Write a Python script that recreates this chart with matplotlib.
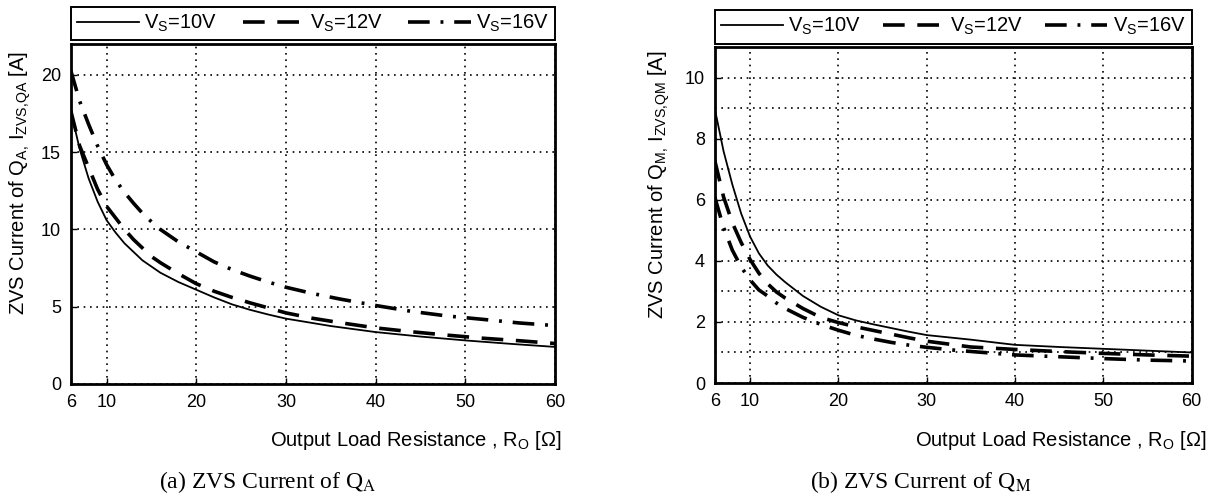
import matplotlib
matplotlib.use('Agg')
import matplotlib.pyplot as plt
from matplotlib.lines import Line2D
from matplotlib.ticker import MultipleLocator

plt.rcParams['font.family'] = ['Liberation Sans', 'DejaVu Sans']
plt.rcParams['mathtext.fontset'] = 'custom'
plt.rcParams['mathtext.rm'] = 'Liberation Sans'
plt.rcParams['mathtext.it'] = 'Liberation Sans:italic'
plt.rcParams['mathtext.bf'] = 'Liberation Sans:bold'

# ---------------- data ----------------
labels = ['V$_\\mathrm{S}$=10V', 'V$_\\mathrm{S}$=12V', 'V$_\\mathrm{S}$=16V']
x_ticks = [6, 10, 20, 30, 40, 50, 60]

# (a) ZVS current of QA
Ra_10 = [6, 7, 8, 9, 10, 11, 12, 14, 16, 18, 20, 22, 24, 26, 28, 30, 35, 40, 45, 50, 55, 60]
Ia_10 = [17.7, 15.2, 13.3, 11.8, 10.6, 9.8, 9.1, 8.0, 7.2, 6.6, 6.1, 5.6, 5.15, 4.8, 4.5, 4.23,
         3.75, 3.36, 3.07, 2.82, 2.6, 2.4]
Ra_12 = [6, 7, 8, 9, 10, 11, 12, 13, 14, 15, 16, 18, 20, 22, 24, 26, 28, 30, 33, 36, 40, 44,
         48, 52, 56, 60]
Ia_12 = [17.7, 15.4, 14.0, 12.6, 11.5, 10.75, 10.0, 9.35, 8.8, 8.25, 7.85, 7.14, 6.49, 6.0,
         5.6, 5.25, 4.93, 4.6, 4.25, 3.97, 3.63, 3.38, 3.16, 2.96, 2.8, 2.62]
Ra_16 = [6, 7, 8, 9, 10, 11, 12, 13, 14, 15, 16, 18, 20, 22, 24, 26, 28, 30, 33, 36, 40, 44,
         48, 52, 56, 60]
Ia_16 = [20.3, 18.3, 16.8, 15.4, 14.2, 13.2, 12.4, 11.7, 11.05, 10.5, 10.0, 9.2, 8.55, 7.9,
         7.4, 6.98, 6.6, 6.26, 5.85, 5.5, 5.08, 4.7, 4.4, 4.18, 3.95, 3.78]

# (b) ZVS current of QM
Rm_10 = [6, 7, 8, 9, 10, 11, 12, 13, 14, 16, 18, 20, 22, 24, 26, 28, 30, 35, 40, 45, 50, 55, 60]
Im_10 = [9.0, 7.6, 6.5, 5.55, 4.8, 4.25, 3.85, 3.55, 3.3, 2.85, 2.5, 2.22, 2.05, 1.92, 1.8,
         1.68, 1.57, 1.42, 1.25, 1.18, 1.12, 1.06, 1.0]
Rm_12 = [6, 7, 8, 9, 10, 11, 12, 13, 14, 16, 18, 20, 22, 24, 26, 28, 30, 35, 40, 45, 50, 55, 60]
Im_12 = [7.3, 6.1, 5.25, 4.6, 4.05, 3.6, 3.25, 2.98, 2.78, 2.44, 2.15, 1.98, 1.84, 1.72, 1.6,
         1.48, 1.37, 1.18, 1.1, 1.03, 0.97, 0.92, 0.88]
Rm_16 = [6, 7, 8, 9, 10, 11, 12, 13, 14, 16, 18, 20, 22, 24, 26, 28, 30, 33, 36, 40, 45, 50,
         55, 60]
Im_16 = [6.1, 5.1, 4.35, 3.8, 3.38, 3.05, 2.85, 2.62, 2.44, 2.15, 1.92, 1.73, 1.56, 1.44, 1.33,
         1.24, 1.17, 1.08, 1.01, 0.92, 0.86, 0.8, 0.75, 0.72]

# ---------------- styles ----------------
st = [dict(color='k', lw=1.3, ls='-'),
      dict(color='k', lw=2.6, ls=(0, (6, 3.5))),
      dict(color='k', lw=2.6, ls=(0, (6, 3, 0.8, 3)))]

W, H = 1218, 499
fig = plt.figure(figsize=(W / 100, H / 100), dpi=100)

ax1 = fig.add_axes([70.7 / W, 1 - 384 / H, (555 - 70.7) / W, (384 - 44) / H])
ax2 = fig.add_axes([714.7 / W, 1 - 383 / H, (1191.6 - 714.7) / W, (383 - 47.3) / H])

for (Rs, Is), s in zip([(Ra_10, Ia_10), (Ra_12, Ia_12), (Ra_16, Ia_16)], st):
    ax1.plot(Rs, Is, **s)
for (Rs, Is), s in zip([(Rm_10, Im_10), (Rm_12, Im_12), (Rm_16, Im_16)], st):
    ax2.plot(Rs, Is, **s)

ax1.set_ylim(0, 22)
ax1.set_yticks([0, 5, 10, 15, 20])
ax2.set_ylim(0, 11)
ax2.set_yticks([0, 2, 4, 6, 8, 10])
ax2.yaxis.set_minor_locator(MultipleLocator(1))

for ax in (ax1, ax2):
    ax.set_xlim(6, 60)
    ax.set_xticks(x_ticks)
    ax.grid(True, which='both', color='k', ls=(0, (1, 2.8)), lw=1.2)
    for sp in ax.spines.values():
        sp.set_linewidth(2.0)
    ax.tick_params(which='both', direction='in', length=4, width=1, labelsize=13, pad=7)
    ax.tick_params(axis='y', which='minor', length=0)

LBL = 14.5
ax1.set_ylabel('ZVS Current of Q$_{\\mathrm{A}{,}}$ I$_{\\mathrm{ZVS{,}QA}}$ [A]', fontsize=LBL)
ax2.set_ylabel('ZVS Current of Q$_{\\mathrm{M}{,}}$ I$_{\\mathrm{ZVS{,}QM}}$ [A]', fontsize=LBL)
ax1.yaxis.set_label_coords(-38 / 484.3, 0.59)
ax2.yaxis.set_label_coords(-43 / 476.9, 0.59)

xl = 'Output Load Resistance , R$_\\mathrm{O}$ [\u03a9]'
fig.text(561 / W, 1 - 441 / H, xl, ha='right', va='center', fontsize=LBL)
fig.text(1206 / W, 1 - 441 / H, xl, ha='right', va='center', fontsize=LBL)

capfont = dict(family=['Liberation Serif', 'DejaVu Serif'], fontsize=17)
fig.text(268 / W, 1 - 482 / H, '(a) ZVS Current of Q$_\\mathrm{A}$', ha='center', va='center',
         math_fontfamily='stix', **capfont)
fig.text(921 / W, 1 - 482 / H, '(b) ZVS Current of Q$_\\mathrm{M}$', ha='center', va='center',
         math_fontfamily='stix', **capfont)

handles = [Line2D([], [], **s) for s in st]
for ax, top, bot in ((ax1, 5.3, 40), (ax2, 8, 43.5)):
    pos = ax.get_position()
    leg = fig.legend(handles, labels, loc='lower left',
                     bbox_to_anchor=(pos.x0, 1 - bot / H, pos.width, (bot - top) / H),
                     mode='expand', ncol=3, frameon=True, fancybox=False, edgecolor='k',
                     framealpha=1, fontsize=LBL, handlelength=3.1, borderaxespad=0,
                     borderpad=0.3, columnspacing=0.6, handletextpad=0.25)
    leg.get_frame().set_linewidth(1.4)

fig.savefig('out.png', dpi=100)
